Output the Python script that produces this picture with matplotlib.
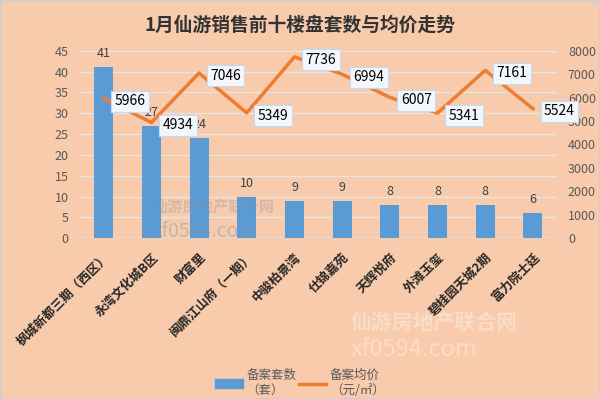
import matplotlib
matplotlib.use("Agg")
import matplotlib.pyplot as plt
from matplotlib.patches import Patch
from matplotlib.lines import Line2D

plt.rcParams['font.family'] = ['Noto Sans CJK SC', 'DejaVu Sans']

# data
projects = ["枫城新都三期（西区）", "永湾文化城B区", "财富里", "闽鼎江山府（一期）",
            "中骏柏景湾", "仕锦嘉苑", "天辉悦府", "外滩玉玺", "碧桂园天城2期", "富力院士廷"]
units = [41, 27, 24, 10, 9, 9, 8, 8, 8, 6]
avg_price = [5966, 4934, 7046, 5349, 7736, 6994, 6007, 5341, 7161, 5524]
left_ticks = [0, 5, 10, 15, 20, 25, 30, 35, 40, 45]
right_ticks = [0, 1000, 2000, 3000, 4000, 5000, 6000, 7000, 8000]

bg = "#F8CBAD"
blue = "#5B9BD5"
orange = "#ED7D31"
grey = "#595959"

fig = plt.figure(figsize=(6, 3.99), dpi=100, facecolor=bg)
ax = fig.add_axes([0.133, 0.403, 0.795, 0.470])
ax.set_facecolor(bg)
ax2 = ax.twinx()

x = list(range(len(projects)))

# bars: number of filings
ax.bar(x, units, width=0.4, color=blue, zorder=2)
for i, v in enumerate(units):
    ax.annotate(str(v), (i, v), xytext=(0, 5), textcoords="offset points",
                ha="center", va="bottom", fontsize=9, color="#404040")

ax.set_ylim(0, 45)
ax.set_xlim(-0.5, len(projects) - 0.5)
ax.set_yticks(left_ticks)
ax.grid(axis="y", color="#E6E6E6", linewidth=0.9, zorder=0)
ax.set_axisbelow(True)
ax.tick_params(axis="y", length=0, labelsize=9, labelcolor=grey, pad=8)
ax.tick_params(axis="x", length=0, pad=9)
ax.set_xticks(x)
ax.set_xticklabels(projects, rotation=45, ha="right", rotation_mode="anchor",
                   fontsize=9, fontweight="bold", color="#262626")
for s in ax.spines.values():
    s.set_visible(False)
ax.axhline(0, color="#E0E0E0", linewidth=1.2, zorder=1)

# line: average price
ax2.plot(x, avg_price, color=orange, linewidth=2.5, zorder=3)
for i, v in enumerate(avg_price):
    ax2.annotate(str(v), (i, v), xytext=(8, -2), textcoords="offset points",
                 ha="left", va="center", fontsize=10, color="black",
                 bbox=dict(boxstyle="square,pad=0.25", fc="#F2F7FC", ec="#C5DCF0", lw=0.8))
ax2.set_ylim(0, 8000)
ax2.set_yticks(right_ticks)
ax2.tick_params(axis="y", length=0, labelsize=9, labelcolor=grey, pad=8)
for s in ax2.spines.values():
    s.set_visible(False)

fig.suptitle("1月仙游销售前十楼盘套数与均价走势", x=0.5, y=0.96,
             fontsize=13.5, fontweight="bold", color="#333333")

# faint watermark text
fig.text(0.585, 0.19, "仙游房地产联合网", fontsize=15, fontweight="bold",
         color="white", alpha=0.35, ha="left", va="center")
fig.text(0.585, 0.125, "xf0594.com", fontsize=17, color="white", alpha=0.35,
         ha="left", va="center")
fig.text(0.255, 0.482, "仙游房地产联合网", fontsize=11, fontweight="bold",
         color="#7F8FA6", alpha=0.3, ha="left", va="center")
fig.text(0.255, 0.42, "xf0594.com", fontsize=14, color="#7F8FA6", alpha=0.4,
         ha="left", va="center")

handles = [Patch(facecolor=blue, edgecolor=blue),
           Line2D([0], [0], color=orange, linewidth=2.5)]
fig.legend(handles, ["备案套数\n（套）", "备案均价\n（元/㎡）"], loc="center",
           bbox_to_anchor=(0.5, 0.04), ncol=2, frameon=False, fontsize=9,
           labelcolor=grey, handlelength=2.2, handletextpad=0.3, columnspacing=0.2)

# light grey frame around the picture
fig.patches.append(plt.Rectangle((0, 0), 1, 1, transform=fig.transFigure,
                                 fill=False, edgecolor="#D0D0D0", linewidth=2))

fig.savefig("out.png", dpi=100, facecolor=bg)
